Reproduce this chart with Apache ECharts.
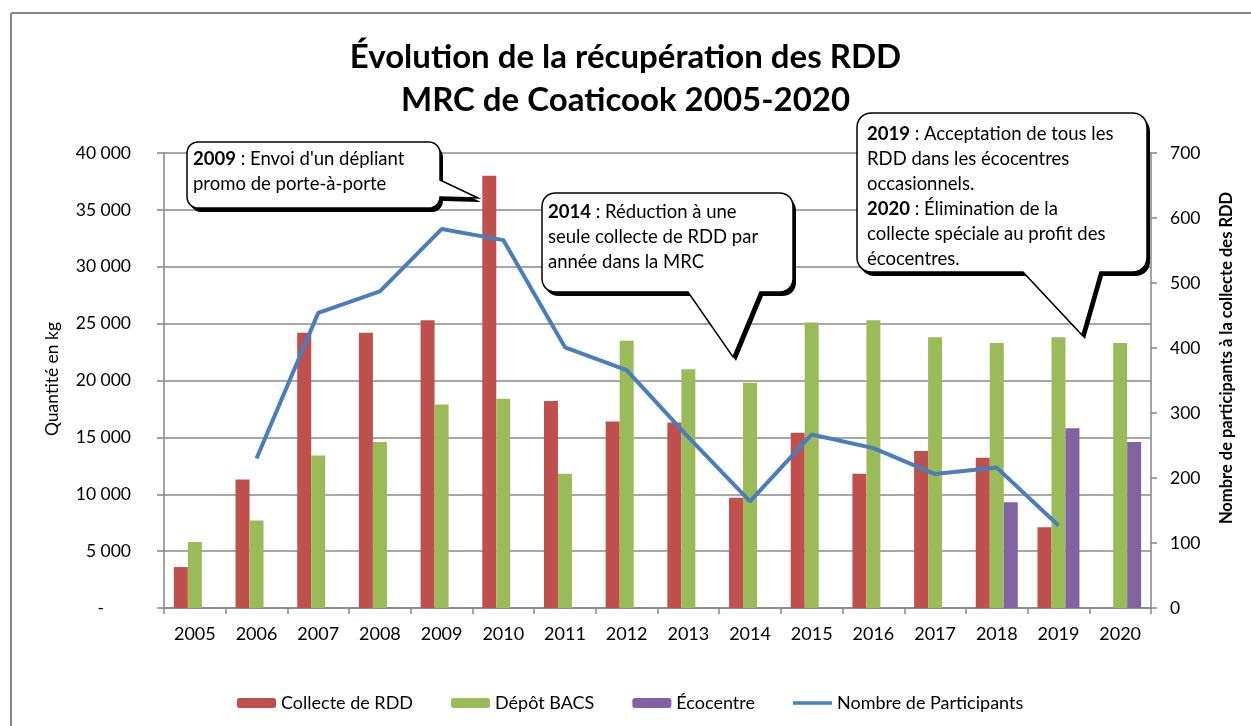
<!DOCTYPE html>
<html>
<head>
<meta charset="utf-8">
<script src="https://cdn.jsdelivr.net/npm/echarts@6/dist/echarts.min.js"></script>
<style>
  html, body { margin: 0; padding: 0; background: #fff; }
  #chart { width: 1251px; height: 726px; }
</style>
</head>
<body>
<div id="chart"></div>
<script>
// données
const years = ['2005', '2006', '2007', '2008', '2009', '2010', '2011', '2012',
    '2013', '2014', '2015', '2016', '2017', '2018', '2019', '2020'];
const collecteRDD = [3600, 11300, 24200, 24200, 25300, 38000, 18200, 16400,
    16300, 9700, 15400, 11800, 13800, 13200, 7100, null];
const depotBACS = [5800, 7700, 13400, 14600, 17900, 18400, 11800, 23500,
    21000, 19800, 25100, 25300, 23800, 23300, 23800, 23300];
const ecocentre = [null, null, null, null, null, null, null, null,
    null, null, null, null, null, 9300, 15800, 14600];
const participants = [null, 230, 454, 487, 583, 566, 401, 366,
    263, 164, 267, 246, 206, 216, 127, null];

const FONT = 'Lato, "DejaVu Sans", sans-serif';

// bulle arrondie avec une pointe (coordonnées en pixels de l'écran)
function bubble(x0, y0, x1, y1, r, tail) {
    const pts = [];
    const arc = (cx, cy, a0, a1) => {
        for (let i = 0; i <= 6; i++) {
            const a = (a0 + (a1 - a0) * i / 6) * Math.PI / 180;
            pts.push([cx + r * Math.cos(a), cy + r * Math.sin(a)]);
        }
    };
    arc(x1 - r, y0 + r, -90, 0);
    if (tail.edge === 'right') {
        pts.push([x1, tail.a], tail.tip, [x1, tail.b]);
    }
    arc(x1 - r, y1 - r, 0, 90);
    if (tail.edge === 'bottom') {
        pts.push([tail.b, y1], tail.tip, [tail.a, y1]);
    }
    arc(x0 + r, y1 - r, 90, 180);
    arc(x0 + r, y0 + r, 180, 270);
    return pts;
}

function callout(pts, textX, textY, text, size) {
    const shadow = pts.map(p => [p[0] + 3, p[1] + 4]);
    return [
        { type: 'polygon', z: 100, shape: { points: shadow }, style: { fill: '#000' } },
        { type: 'polygon', z: 101, shape: { points: pts }, style: { fill: '#fff', stroke: '#000', lineWidth: 1.5 } },
        {
            type: 'text', z: 102, x: textX, y: textY,
            style: {
                text: text, fill: '#000', font: size + 'px ' + FONT, lineHeight: 25,
                rich: {
                    b: { fontWeight: 'bold', fontSize: size, fontFamily: FONT, lineHeight: 25, fill: '#000' },
                    n: { fontSize: size, fontFamily: FONT, lineHeight: 25, fill: '#000' }
                }
            }
        }
    ];
}

const chart = echarts.init(document.getElementById('chart'));

const fmtKg = v => v === 0 ? '-      ' : String(v).replace(/\B(?=(\d{3})+(?!\d))/g, ' ');

const graphics = [
    // cadre du graphique
    { type: 'line', shape: { x1: 11, y1: 13, x2: 11, y2: 726 }, style: { stroke: '#868686', lineWidth: 2 } },
    { type: 'line', shape: { x1: 11, y1: 13, x2: 1251, y2: 13 }, style: { stroke: '#868686', lineWidth: 2 } },
    {
        type: 'text', x: 52, y: 379, rotation: Math.PI / 2,
        style: { text: 'Quantité en kg', font: '17.5px ' + FONT, fill: '#000', align: 'center', verticalAlign: 'middle' }
    },
    {
        type: 'text', x: 1227, y: 358, rotation: Math.PI / 2,
        style: { text: 'Nombre de participants à la collecte des RDD', font: 'bold 16.5px ' + FONT, fill: '#000', align: 'center', verticalAlign: 'middle' }
    }
].concat(
    callout(bubble(187, 142, 440, 208, 11, { edge: 'right', a: 180, b: 197, tip: [478, 198] }),
        193, 147, '{b|2009}{n| : Envoi d\'un dépliant}\n{n|promo de porte-à-porte}', 18.5),
    callout(bubble(542, 193, 793, 292, 13, { edge: 'bottom', a: 688, b: 760, tip: [733, 357] }),
        548, 200, '{b|2014}{n| : Réduction à une}\n{n|seule collecte de RDD par}\n{n|année dans la MRC}', 18.5),
    callout(bubble(857, 113, 1147, 272, 14, { edge: 'bottom', a: 1023, b: 1100, tip: [1082, 335] }),
        867, 122, '{b|2019}{n| : Acceptation de tous les}\n{n|RDD dans les écocentres}\n{n|occasionnels.}\n{b|2020}{n| : Élimination de la}\n{n|collecte spéciale au profit des}\n{n|écocentres.}', 18.5)
);

const option = {
    backgroundColor: '#fff',
    animation: false,
    textStyle: { fontFamily: FONT },
    title: {
        text: 'Évolution de la récupération des RDD\nMRC de Coaticook 2005-2020',
        left: 'center',
        top: 31,
        textStyle: { fontSize: 33, fontWeight: 'bold', color: '#000', lineHeight: 43, fontFamily: FONT }
    },
    legend: {
        left: 232,
        top: 689,
        itemWidth: 39,
        itemHeight: 10,
        itemGap: 38,
        textStyle: { fontSize: 18, color: '#000', fontFamily: FONT },
        data: [
            'Collecte de RDD', 'Dépôt BACS', 'Écocentre',
            { name: 'Nombre de Participants', icon: 'path://M0,0L0.01,0ZM0,3L44,3L44,7L0,7ZM0,10L0.01,10Z' }
        ]
    },
    grid: { left: 164, right: 100, top: 153, bottom: 118 },
    xAxis: {
        type: 'category',
        data: years,
        axisLine: { lineStyle: { color: '#868686', width: 1.5 } },
        axisTick: { show: true, length: 6, lineStyle: { color: '#868686', width: 1.5 } },
        axisLabel: { color: '#000', fontSize: 18, margin: 17 }
    },
    yAxis: [
        {
            type: 'value', min: 0, max: 40000, interval: 5000,
            axisLine: { show: true, lineStyle: { color: '#868686', width: 1.5 } },
            axisTick: { show: true, length: 7, lineStyle: { color: '#868686', width: 1.5 } },
            splitLine: { lineStyle: { color: '#8a8a8a', width: 1.5 } },
            axisLabel: { color: '#000', fontSize: 17.5, margin: 33, formatter: fmtKg }
        },
        {
            type: 'value', min: 0, max: 700, interval: 100,
            axisLine: { show: true, lineStyle: { color: '#868686', width: 1.5 } },
            axisTick: { show: true, length: 6, lineStyle: { color: '#868686', width: 1.5 } },
            splitLine: { show: false },
            axisLabel: { color: '#000', fontSize: 17.5, margin: 19 }
        }
    ],
    series: [
        { name: 'Collecte de RDD', type: 'bar', data: collecteRDD, barWidth: 14, barGap: '0%', itemStyle: { color: '#C0504D' } },
        { name: 'Dépôt BACS', type: 'bar', data: depotBACS, barWidth: 14, barGap: '0%', itemStyle: { color: '#9BBB59' } },
        { name: 'Écocentre', type: 'bar', data: ecocentre, barWidth: 14, barGap: '0%', itemStyle: { color: '#8064A2' } },
        {
            name: 'Nombre de Participants', type: 'line', yAxisIndex: 1, data: participants,
            symbol: 'none', connectNulls: false,
            lineStyle: { color: '#4A7EBB', width: 4 }, itemStyle: { color: '#4A7EBB' }
        }
    ],
    graphic: graphics
};

chart.setOption(option);
</script>
</body>
</html>
